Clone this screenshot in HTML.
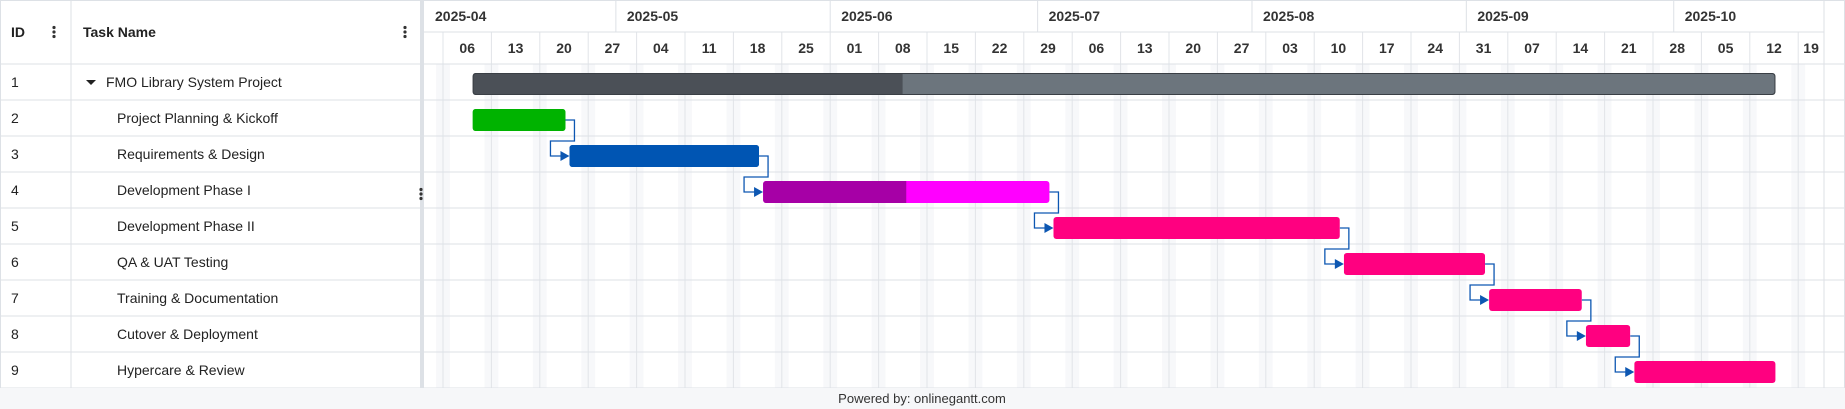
<!DOCTYPE html>
<html><head><meta charset="utf-8"><style>
html,body{margin:0;padding:0;background:#fff;width:1845px;height:409px;overflow:hidden;font-family:"Liberation Sans",Arial,sans-serif}
svg{display:block}
text{font-family:"Liberation Sans",Arial,sans-serif}
</style></head><body>
<svg id="g" width="1845" height="409" xmlns="http://www.w3.org/2000/svg"></svg>
<script>
const taskIds = [1,2,3,4,5,6,7,8,9];
const taskNames = ["FMO Library System Project","Project Planning & Kickoff","Requirements & Design","Development Phase I","Development Phase II","QA & UAT Testing","Training & Documentation","Cutover & Deployment","Hypercare & Review"];
const taskStarts = ["2025-04-10","2025-04-10","2025-04-24","2025-05-22","2025-07-03","2025-08-14","2025-09-04","2025-09-18","2025-09-25"];
const taskEnds = ["2025-10-16","2025-04-24","2025-05-22","2025-07-03","2025-08-14","2025-09-04","2025-09-18","2025-09-25","2025-10-16"];
const taskProgress = [0.33,1,1,0.5,0,0,0,0,0];
const taskColors = ["#6c757d","#00b300","#0055b3","#ff00ff","#ff0080","#ff0080","#ff0080","#ff0080","#ff0080"];
const doneColors = ["#4b5057","#00b300","#0055b3","#a600a6","#ff0080","#ff0080","#ff0080","#ff0080","#ff0080"];
const dependencies = [[2,3],[3,4],[4,5],[5,6],[6,7],[7,8],[8,9]];
const weekLabels = ["06","13","20","27","04","11","18","25","01","08","15","22","29","06","13","20","27","03","10","17","24","31","07","14","21","28","05","12","19"];
const monthLabels = ["2025-04","2025-05","2025-06","2025-07","2025-08","2025-09","2025-10"];
const monthStarts = ["2025-04-01","2025-05-01","2025-06-01","2025-07-01","2025-08-01","2025-09-01","2025-10-01"];

const NS="http://www.w3.org/2000/svg";
const svg=document.getElementById('g');
const GL=424, GR=1824, X0=443, DAY=48.4/7, HDR=64, RH=36, FOOT=388;
const base=Date.UTC(2025,3,6);
function days(s){const p=s.split('-');return (Date.UTC(+p[0],+p[1]-1,+p[2])-base)/86400000;}
function xd(s){return X0+days(s)*DAY;}
function mk(tag,attrs,parent){const e=document.createElementNS(NS,tag);for(const k in attrs)e.setAttribute(k,attrs[k]);(parent||svg).appendChild(e);return e;}
function tx(x,y,str,attrs){const t=mk('text',Object.assign({x:x,y:y,'font-size':14,fill:'#222'},attrs||{}));t.textContent=str;return t;}

for(let w=-1;w<=weekLabels.length;w++){
  const lx=X0+w*7*DAY;
  const x1=Math.max(GL,lx-DAY),x2=Math.min(GR,lx+DAY);
  if(x2>x1){const r=mk('rect',{x:x1,y:HDR,width:x2-x1,height:FOOT-HDR,fill:'#f7f8fa'});
  
  }
}
for(let w=0;w<weekLabels.length;w++){
  const lx=X0+w*7*DAY;
  const l=mk('line',{x1:lx,x2:lx,y1:32,y2:FOOT,stroke:'#e1e4e8','stroke-width':1});
  
  
  const nx=Math.min(GR,lx+7*DAY);
  const t=tx((lx+nx)/2,53,weekLabels[w],{'font-weight':'bold','text-anchor':'middle',fill:'#333'});
  
  
}
for(let m=0;m<monthLabels.length;m++){
  const mx=Math.max(GL,xd(monthStarts[m]));
  if(m>0){const l=mk('line',{x1:mx,x2:mx,y1:0,y2:32,stroke:'#dde1e6'});
  
  }
  const t=tx(mx+11,21,monthLabels[m],{'font-weight':'bold',fill:'#333'});
  
  
}
mk('line',{x1:GL,x2:GR,y1:32,y2:32,stroke:'#dde1e6'});
mk('line',{x1:0,x2:1845,y1:HDR,y2:HDR,stroke:'#dde1e6'});
mk('line',{x1:0,x2:1845,y1:0.5,y2:0.5,stroke:'#dde1e6'});
mk('line',{x1:GR,x2:GR,y1:0,y2:FOOT,stroke:'#dde1e6'});
mk('line',{x1:71,x2:71,y1:0,y2:FOOT,stroke:'#dde1e6'});
mk('line',{x1:0.5,x2:0.5,y1:0,y2:FOOT,stroke:'#dde1e6'});
mk('line',{x1:1844.5,x2:1844.5,y1:0,y2:FOOT,stroke:'#dde1e6'});
const sp=mk('rect',{x:420,y:0,width:4,height:FOOT,fill:'#dde1e6'});


let h=tx(11,37,'ID',{'font-weight':'bold'});


h=tx(83,37,'Task Name',{'font-weight':'bold'});


function kebab(x,y,name){const g=mk('g',{});
  for(let i=-1;i<=1;i++)mk('circle',{cx:x,cy:y+i*4.5,r:1.6,fill:'#333'},g);}
kebab(54,32,'id-column-menu');
kebab(405,32,'task-name-column-menu');
for(let i=0;i<taskIds.length;i++){
  const top=HDR+i*RH;
  const l=mk('line',{x1:0,x2:1845,y1:top+RH,y2:top+RH,stroke:'#dde1e6'});
  
  
  let t=tx(11,top+23,String(taskIds[i]),{fill:'#222'});
  
  
  if(i===0){const tri=mk('path',{d:`M86 ${top+16} L96 ${top+16} L91 ${top+21} Z`,fill:'#222'});
    
    }
  t=tx(i===0?106:117,top+23,taskNames[i],{fill:'#222'});
  
  
  const xs=xd(taskStarts[i])+2,xe=xd(taskEnds[i])-2,by=top+9,bh=22;
  const g=mk('g',{});
  
  
  const cp=mk('clipPath',{id:'c'+i},g);
  mk('rect',{x:xs,y:by,width:xe-xs,height:bh,rx:3},cp);
  mk('rect',{x:xs,y:by,width:xe-xs,height:bh,fill:taskColors[i],'clip-path':`url(#c${i})`},g);
  mk('rect',{x:xs,y:by,width:(xe-xs)*taskProgress[i],height:bh,fill:doneColors[i],'clip-path':`url(#c${i})`},g);
  if(i===0)mk('rect',{x:xs+0.5,y:by+0.5,width:xe-xs-1,height:bh-1,rx:3,fill:'none',stroke:'#3a3f45'},g);
}
kebab(421,194,'row-drag-handle');
for(const d of dependencies){
  const a=d[0]-1,b=d[1]-1;
  const ex=xd(taskEnds[a])-2, ey=HDR+a*RH+20, sx=xd(taskStarts[b])+2, sy=HDR+b*RH+20;
  const mid=HDR+b*RH+5;
  const p=mk('path',{d:`M${ex} ${ey} H${ex+9} V${mid} H${sx-19} V${sy} H${sx-8}`,fill:'none',stroke:'#0d57b2','stroke-width':1.3});
  
  
  const ah=mk('path',{d:`M${sx-9} ${sy-5} L${sx} ${sy} L${sx-9} ${sy+5} Z`,fill:'#0d57b2'});
  
  
}
const f=mk('rect',{x:0,y:FOOT,width:1845,height:409-FOOT,fill:'#f6f7f9'});


const ft=tx(922,403,'Powered by: onlinegantt.com',{'font-size':13,'text-anchor':'middle',fill:'#333'});


</script>
</body></html>
